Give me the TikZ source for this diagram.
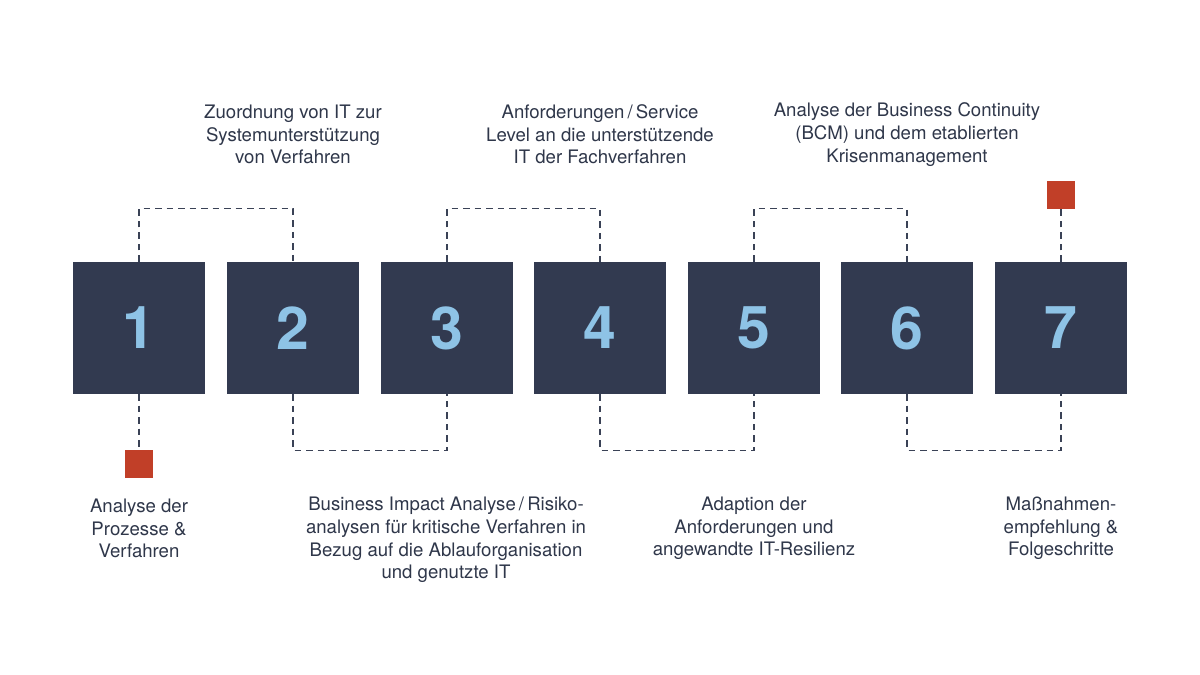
\documentclass[tikz,border=0pt]{standalone}
\usepackage{fontspec}
\setmainfont{TeX Gyre Heros}
\definecolor{boxc}{HTML}{323A50}
\definecolor{numc}{HTML}{8EC3E6}
\definecolor{redc}{HTML}{C13F28}
\definecolor{txtc}{HTML}{2F374A}
\definecolor{linec}{HTML}{3A4256}
\begin{document}
\begin{tikzpicture}[x=1pt,y=-1pt,
  stepbox/.style={fill=boxc,draw=none,minimum size=132pt,inner sep=0pt,text=numc,font=\fontsize{59}{60}\selectfont\bfseries},
  marker/.style={fill=redc,draw=none,minimum size=28pt,inner sep=0pt},
  label/.style={align=center,text=txtc,font=\fontsize{18.6}{22.6}\selectfont,inner sep=0pt},
  conn/.style={draw=linec,line width=1.3pt,dash pattern=on 6.5pt off 5pt}]
\useasboundingbox[fill=white] (0,0) rectangle (1200,675);
\foreach \i/\x in {1/139,2/293,3/447,4/600,5/754,6/907,7/1061}{
  \node[stepbox] (b\i) at (\x,328) {\i};
}
\node[marker] (r1) at (139,464) {};
\node[marker] (r2) at (1061,195) {};
\draw[conn] (b1.south) -- (r1.north);
\draw[conn] (b7.north) -- (r2.south);
\draw[conn] (b1.north) -- ++(0,-53) -| (b2.north);
\draw[conn] (b3.north) -- ++(0,-53) -| (b4.north);
\draw[conn] (b5.north) -- ++(0,-53) -| (b6.north);
\draw[conn] (b2.south) -- ++(0,56) -| (b3.south);
\draw[conn] (b4.south) -- ++(0,56) -| (b5.south);
\draw[conn] (b6.south) -- ++(0,56) -| (b7.south);
\node[label] (t2) at (293,134.5) {Zuordnung von IT zur\\Systemunterstützung\\von Verfahren};
\node[label] (t4) at (600,134.5) {Anforderungen\,/\,Service\\Level an die unterstützende\\IT der Fachverfahren};
\node[label] (t6) at (907,134.5) {Analyse der Business Continuity\\(BCM) und dem etablierten\\Krisenmanagement};
\node[label] (t1) at (139,528.5) {Analyse der\\Prozesse \&\\Verfahren};
\node[label] (t3) at (446,540) {Business Impact Analyse\,/\,Risiko-\\analysen für kritische Verfahren in\\Bezug auf die Ablauforganisation\\und genutzte IT};
\node[label] (t5) at (754,528.5) {Adaption der\\Anforderungen und\\angewandte IT-Resilienz};
\node[label] (t7) at (1061,528.5) {Maßnahmen-\\empfehlung \&\\Folgeschritte};
\end{tikzpicture}
\end{document}
